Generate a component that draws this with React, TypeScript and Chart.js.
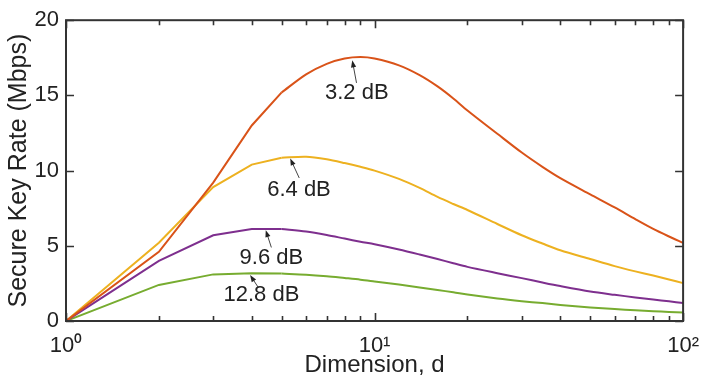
import React, { useEffect, useRef } from 'react';
import { Chart, registerables } from 'chart.js';

Chart.register(...registerables);

// ---- data ----
const dims = [1, 2, 3, 4, 5, 6, 7, 8, 9, 10, 12, 14, 16, 18, 20, 25, 30, 35, 40, 50, 60, 70, 80, 90, 100];
const rate32 = [0, 4.6, 9.2, 13.0, 15.2, 16.4, 17.1, 17.45, 17.55, 17.45, 17.0, 16.35, 15.6, 14.8, 14.0, 12.45, 11.2, 10.25, 9.5, 8.42, 7.55, 6.77, 6.12, 5.62, 5.2];
const rate64 = [0, 5.2, 8.9, 10.4, 10.85, 10.92, 10.75, 10.5, 10.25, 10.0, 9.45, 8.85, 8.25, 7.78, 7.38, 6.45, 5.7, 5.15, 4.7, 4.12, 3.65, 3.3, 3.02, 2.76, 2.52];
const rate96 = [0, 4.0, 5.7, 6.12, 6.12, 5.95, 5.72, 5.48, 5.27, 5.1, 4.75, 4.42, 4.12, 3.84, 3.6, 3.18, 2.85, 2.56, 2.32, 1.96, 1.74, 1.57, 1.43, 1.31, 1.19];
const rate128 = [0, 2.4, 3.1, 3.17, 3.15, 3.08, 2.98, 2.86, 2.75, 2.63, 2.42, 2.23, 2.06, 1.91, 1.76, 1.5, 1.32, 1.19, 1.07, 0.9, 0.79, 0.71, 0.65, 0.6, 0.56];

const seriesLabels = ['3.2 dB', '6.4 dB', '9.6 dB', '12.8 dB'];
const seriesColors = ['#D95319', '#EDB120', '#7E2F8E', '#77AC30'];
const seriesValues = [rate32, rate64, rate96, rate128];
// the first few points are joined by straight segments, the rest smoothly
const straightCount = 5;

const xTickValues = [1, 2, 3, 4, 5, 6, 7, 8, 9, 10, 20, 30, 40, 50, 60, 70, 80, 90, 100];
const xMajorTicks = [1, 10, 100];
const xMajorLabels = ['10\u2070', '10\u00B9', '10\u00B2'];
const yTickValues = [0, 5, 10, 15, 20];

// annotation anchors (data coordinates): text centre, arrow tail, arrow head
const annoText = [[8.76, 15.18], [5.69, 8.73], [4.63, 4.17], [4.3, 1.76]];
const annoTail = [[8.74, 15.83], [5.7, 9.51], [4.63, 4.89], [4.2, 2.23]];
const annoHead = [[8.47, 17.33], [5.33, 10.81], [4.44, 6.04], [3.95, 3.06]];

const FONT = '"Liberation Sans", Arial, Helvetica, sans-serif';
const AXIS_COLOR = '#333333';
const TEXT_COLOR = '#222222';

const framePlugin = {
  id: 'frameTicks',
  afterDatasetsDraw(chart: any) {
    const { ctx, chartArea: a, scales } = chart;
    const xs = scales.x;
    const ys = scales.y;
    ctx.save();
    ctx.strokeStyle = AXIS_COLOR;
    ctx.lineWidth = 1.6;
    ctx.beginPath();
    for (const v of xTickValues) {
      const px = Math.round(xs.getPixelForValue(v)) + 0.5;
      const len = xMajorTicks.includes(v) ? 8 : 5;
      ctx.moveTo(px, a.bottom);
      ctx.lineTo(px, a.bottom - len);
      ctx.moveTo(px, a.top);
      ctx.lineTo(px, a.top + len);
    }
    for (const v of yTickValues) {
      const py = Math.round(ys.getPixelForValue(v)) + 0.5;
      ctx.moveTo(a.left, py);
      ctx.lineTo(a.left + 8, py);
      ctx.moveTo(a.right, py);
      ctx.lineTo(a.right - 8, py);
    }
    ctx.stroke();
    ctx.lineWidth = 2;
    ctx.strokeRect(a.left, a.top, a.right - a.left, a.bottom - a.top);
    ctx.restore();
  },
};

const annotationPlugin = {
  id: 'curveLabels',
  afterDraw(chart: any) {
    const { ctx, scales } = chart;
    const xs = scales.x;
    const ys = scales.y;
    ctx.save();
    for (let i = 0; i < seriesLabels.length; i++) {
      const tx = xs.getPixelForValue(annoTail[i][0]);
      const ty = ys.getPixelForValue(annoTail[i][1]);
      const hx = xs.getPixelForValue(annoHead[i][0]);
      const hy = ys.getPixelForValue(annoHead[i][1]);
      const ang = Math.atan2(hy - ty, hx - tx);
      ctx.strokeStyle = '#444444';
      ctx.fillStyle = '#222222';
      ctx.lineWidth = 1;
      ctx.beginPath();
      ctx.moveTo(tx, ty);
      ctx.lineTo(hx - Math.cos(ang) * 4, hy - Math.sin(ang) * 4);
      ctx.stroke();
      const hl = 7;
      const hw = 2.6;
      ctx.beginPath();
      ctx.moveTo(hx, hy);
      ctx.lineTo(hx - Math.cos(ang) * hl + Math.sin(ang) * hw, hy - Math.sin(ang) * hl - Math.cos(ang) * hw);
      ctx.lineTo(hx - Math.cos(ang) * hl - Math.sin(ang) * hw, hy - Math.sin(ang) * hl + Math.cos(ang) * hw);
      ctx.closePath();
      ctx.fill();

      ctx.font = `22px ${FONT}`;
      ctx.fillStyle = TEXT_COLOR;
      ctx.textAlign = 'center';
      ctx.textBaseline = 'middle';
      ctx.fillText(seriesLabels[i], xs.getPixelForValue(annoText[i][0]), ys.getPixelForValue(annoText[i][1]));
    }
    ctx.restore();
  },
};

export default function App() {
  const ref = useRef<HTMLCanvasElement | null>(null);

  useEffect(() => {
    if (!ref.current) return;
    const datasets: any[] = [];
    seriesValues.forEach((vals, i) => {
      const pts = dims.map((d, j) => ({ x: d, y: vals[j] }));
      datasets.push({
        label: seriesLabels[i],
        data: pts.slice(0, straightCount),
        borderColor: seriesColors[i],
        backgroundColor: seriesColors[i],
        borderWidth: 2,
        pointRadius: 0,
        tension: 0,
        fill: false,
      });
      datasets.push({
        label: seriesLabels[i],
        data: pts.slice(straightCount - 1),
        borderColor: seriesColors[i],
        backgroundColor: seriesColors[i],
        borderWidth: 2,
        pointRadius: 0,
        tension: 0.3,
        fill: false,
      });
    });
    const chart = new Chart(ref.current, {
      type: 'line',
      data: { datasets },
      options: {
        animation: false,
        responsive: false,
        events: [],
        layout: { padding: { left: 0, top: 14, right: 17, bottom: 0 } },
        plugins: {
          legend: { display: false },
          tooltip: { enabled: false },
          title: { display: false },
        },
        scales: {
          x: {
            type: 'logarithmic',
            min: 1,
            max: 100,
            grid: { display: false, drawTicks: false },
            border: { display: false },
            afterBuildTicks: (scale: any) => {
              scale.ticks = xTickValues.map((v) => ({ value: v, major: xMajorTicks.includes(v) }));
            },
            afterFit: (scale: any) => {
              scale.height = 66;
            },
            ticks: {
              autoSkip: false,
              maxRotation: 0,
              padding: 12,
              color: TEXT_COLOR,
              font: { family: FONT, size: 22 },
              callback: (v: any) => {
                const k = xMajorTicks.indexOf(Number(v));
                return k >= 0 ? xMajorLabels[k] : '';
              },
            },
            title: {
              display: true,
              text: 'Dimension, d',
              color: TEXT_COLOR,
              font: { family: FONT, size: 24 },
              padding: { top: 0, bottom: 7 },
            },
          },
          y: {
            type: 'linear',
            min: 0,
            max: 20,
            grid: { display: false, drawTicks: false },
            border: { display: false },
            afterBuildTicks: (scale: any) => {
              scale.ticks = yTickValues.map((v) => ({ value: v }));
            },
            afterFit: (scale: any) => {
              scale.width = 66;
            },
            ticks: {
              padding: 7,
              color: TEXT_COLOR,
              font: { family: FONT, size: 22 },
            },
            title: {
              display: true,
              text: 'Secure Key Rate (Mbps)',
              color: TEXT_COLOR,
              font: { family: FONT, size: 25 },
              padding: { top: 4, bottom: 0 },
            },
          },
        },
      },
      plugins: [framePlugin, annotationPlugin],
    });
    return () => chart.destroy();
  }, []);

  return (
    <div style={{ position: 'absolute', left: 0, top: 0, width: 711, height: 387, background: '#ffffff' }}>
      <canvas ref={ref} width={711} height={387} style={{ display: 'block' }} />
    </div>
  );
}
